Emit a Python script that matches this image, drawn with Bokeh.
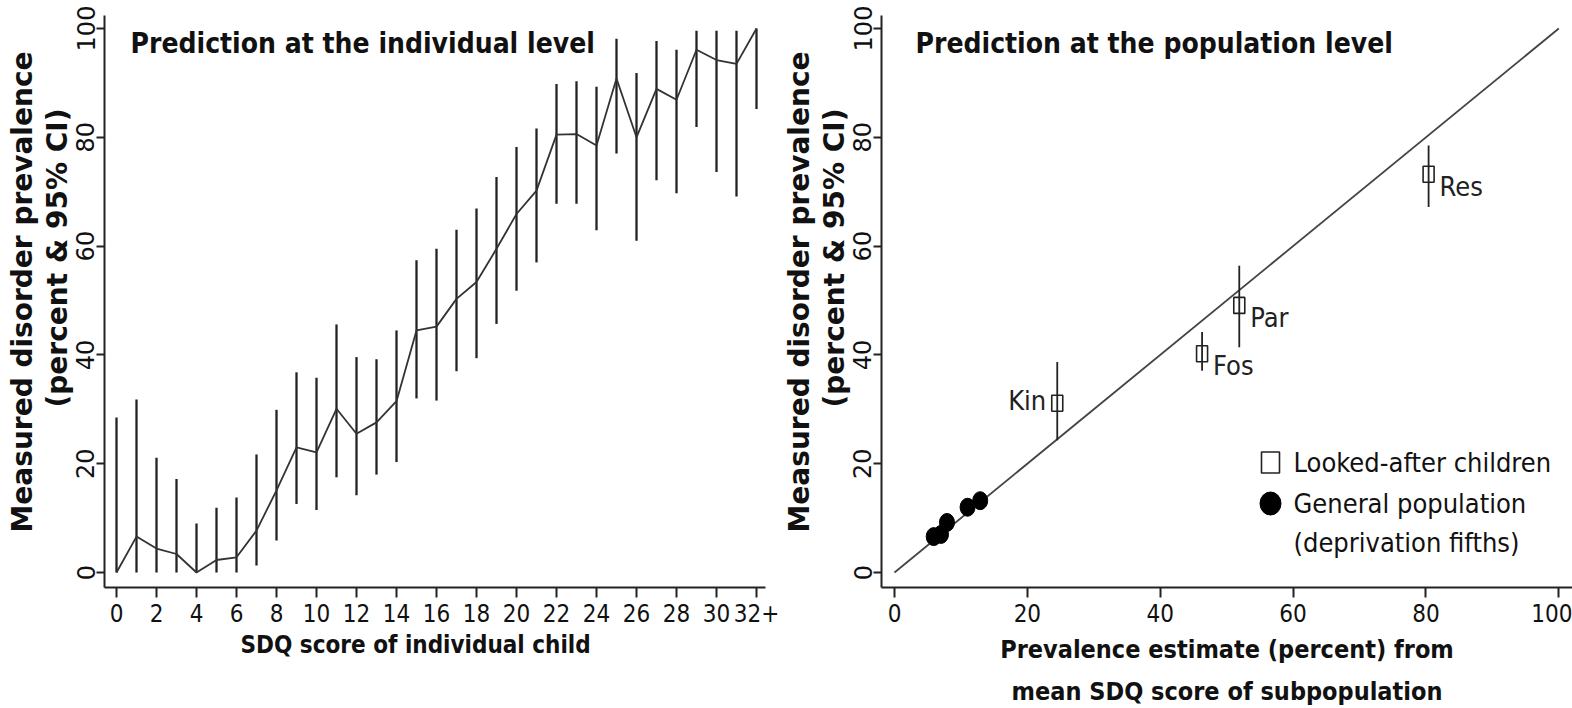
from bokeh.plotting import figure
from bokeh.models import Range1d, FixedTicker, Label, Title
from bokeh.layouts import row
from bokeh.core.properties import value
from bokeh.embed import file_html
from bokeh.resources import INLINE

# ---------------- data ----------------
# Left panel: SDQ score of individual child vs measured prevalence (%), 95% CI
sdq_score = list(range(0, 33))
sdq_ticks = list(range(0, 33, 2))
sdq_tick_labels = {32: "32+"}
prev_mean = [0, 6.6, 4.4, 3.4, 0, 2.3, 2.8, 7.7, 15.1, 23.0, 22.1, 30.1, 25.5, 27.6, 31.5,
             44.5, 45.2, 50.3, 53.4, 59.5, 65.9, 70.2, 80.5, 80.6, 78.5, 90.8, 80.0, 88.9,
             86.9, 96.1, 94.2, 93.5, 100]
prev_lower = [0, 0, 0, 0, 0, 0, 0, 1.3, 5.9, 12.6, 11.5, 17.5, 14.2, 18.0, 20.3, 32.0, 31.6,
              37.0, 39.4, 45.7, 51.8, 57.0, 67.8, 67.8, 62.9, 77.0, 61.0, 72.1, 69.7, 81.9,
              73.6, 69.1, 85.2]
prev_upper = [28.5, 31.8, 21.1, 17.2, 9.0, 11.9, 13.8, 21.7, 29.9, 36.8, 35.8, 45.6, 39.6,
              39.2, 44.5, 57.4, 59.5, 63.0, 66.9, 72.7, 78.2, 81.6, 89.8, 90.3, 89.3, 98.1,
              91.8, 97.7, 96.1, 99.6, 99.6, 99.6, 100]
y_ticks = [0, 20, 40, 60, 80, 100]

# Right panel: looked-after children subgroups
lac_labels = ["Kin", "Fos", "Par", "Res"]
lac_pred = [24.5, 46.3, 51.9, 80.4]
lac_meas = [31.1, 40.2, 49.1, 73.2]
lac_lower = [24.3, 37.1, 41.4, 67.2]
lac_upper = [38.7, 44.2, 56.4, 78.5]
pred_ticks = [0, 20, 40, 60, 80, 100]

# General population (deprivation fifths)
gp_pred = [5.9, 7.0, 7.9, 11.0, 12.9]
gp_meas = [6.6, 7.0, 9.2, 12.0, 13.2]

# line of identity
identity = [0, 100]

NARROW = "DejaVu Sans Condensed, Roboto, sans-serif"
WIDE = "DejaVu Sans"
INK = "#222222"
TXT = "#111111"

# page-pixel helpers (for annotation placement only)
def lx(px): return (px - 116) / 20.0
def ly(py): return (572 - py) / 5.44
def rx(px): return (px - 894) / 6.643


def style(p, xticks):
    p.outline_line_color = None
    p.xgrid.visible = False
    p.ygrid.visible = False
    p.background_fill_color = "white"
    p.border_fill_color = "white"
    for ax in (p.xaxis[0], p.yaxis[0]):
        ax.axis_line_color = INK
        ax.axis_line_width = 2
        ax.major_tick_line_color = INK
        ax.major_tick_line_width = 2
        ax.major_tick_in = 0
        ax.minor_tick_line_color = None
        ax.major_label_text_color = TXT
    p.xaxis.major_tick_out = 10
    p.yaxis.major_tick_out = 8
    p.xaxis.ticker = FixedTicker(ticks=xticks, minor_ticks=[])
    p.xaxis.major_label_text_font = NARROW
    p.xaxis.major_label_text_font_size = "24px"
    p.xaxis.major_label_standoff = 6
    p.yaxis.ticker = FixedTicker(ticks=y_ticks, minor_ticks=[])
    p.yaxis.major_label_orientation = "vertical"
    p.yaxis.major_label_text_font = WIDE
    p.yaxis.major_label_text_font_size = "24px"
    p.yaxis.major_label_standoff = 2


def ytitles(p):
    for txt, off in (("(percent & 95% CI)", 180), ("Measured disorder prevalence", 55)):
        p.add_layout(Title(text=txt, align="left", offset=off, standoff=0,
                           text_font=WIDE, text_font_style="bold",
                           text_font_size="28px", text_color=TXT), "left")


def xtitle(p, txt, align, off, standoff, size):
    p.add_layout(Title(text=txt, align=align, offset=off, standoff=standoff,
                       text_font=NARROW, text_font_style="bold",
                       text_font_size=size, text_color=TXT), "below")


def inlabel(p, x, y, text, size, bold=False, align="left", baseline="middle"):
    p.add_layout(Label(x=x, y=y, text=text, text_align=align, text_baseline=baseline,
                       text_font=NARROW, text_font_style="bold" if bold else "normal",
                       text_font_size=size, text_color=TXT))


# ---------------- left panel ----------------
p1 = figure(width=780, height=708,
            x_range=Range1d(lx(104), lx(765)), y_range=Range1d(ly(587), ly(15)),
            output_backend="svg", toolbar_location=None,
            min_border_left=104, min_border_right=15, min_border_top=15, min_border_bottom=121)
style(p1, sdq_ticks)
p1.xaxis.major_label_overrides = sdq_tick_labels

p1.segment(x0=sdq_score, y0=prev_lower, x1=sdq_score, y1=prev_upper,
           line_color=INK, line_width=2.3)
p1.line(sdq_score, prev_mean, line_color="#333333", line_width=1.8)

inlabel(p1, lx(130), ly(43), "Prediction at the individual level", "28px", bold=True,
        baseline="alphabetic")
ytitles(p1)
xtitle(p1, "SDQ score of individual child", "left", 136, 8, "24px")

# ---------------- right panel ----------------
p2 = figure(width=792, height=708,
            x_range=Range1d(rx(881), rx(1572)), y_range=Range1d(ly(587), ly(15)),
            output_backend="svg", toolbar_location=None,
            min_border_left=101, min_border_right=0, min_border_top=15, min_border_bottom=121)
style(p2, pred_ticks)

p2.line(identity, identity, line_color="#444444", line_width=1.8)
p2.segment(x0=lac_pred, y0=lac_lower, x1=lac_pred, y1=lac_upper,
           line_color=INK, line_width=1.8)
p2.rect(x=lac_pred, y=lac_meas, width=11, height=16, width_units="screen",
        height_units="screen", fill_color=None, line_color=INK, line_width=1.6)
p2.ellipse(x=gp_pred, y=gp_meas, width=15, height=18, width_units="screen",
           height_units="screen", fill_color="black", line_color="black")

left_idx = [i for i, t in enumerate(lac_labels) if t == "Kin"]
right_idx = [i for i, t in enumerate(lac_labels) if t != "Kin"]
p2.text(x=[lac_pred[i] for i in left_idx], y=[lac_meas[i] for i in left_idx],
        text=[lac_labels[i] for i in left_idx], x_offset=-11, y_offset=-3,
        text_align="right", text_baseline="middle",
        text_font=value(NARROW), text_font_size="27px", text_color="#222222")
p2.text(x=[lac_pred[i] for i in right_idx], y=[lac_meas[i] for i in right_idx],
        text=[lac_labels[i] for i in right_idx], x_offset=11, y_offset=12,
        text_align="left", text_baseline="middle",
        text_font=value(NARROW), text_font_size="27px", text_color="#222222")

# legend (drawn manually)
p2.rect(x=[rx(1270)], y=[ly(462)], width=18, height=21, width_units="screen",
        height_units="screen", fill_color=None, line_color=INK, line_width=1.6)
p2.ellipse(x=[rx(1270)], y=[ly(503)], width=21, height=23, width_units="screen",
           height_units="screen", fill_color="black", line_color="black")
inlabel(p2, rx(1293), ly(462), "Looked-after children", "27px")
inlabel(p2, rx(1293), ly(503), "General population", "27px")
inlabel(p2, rx(1293), ly(542), "(deprivation fifths)", "27px")

inlabel(p2, rx(915), ly(43), "Prediction at the population level", "28px", bold=True,
        baseline="alphabetic")
ytitles(p2)
xtitle(p2, "Prevalence estimate (percent) from", "center", 0, 16, "25px")
xtitle(p2, "mean SDQ score of subpopulation", "center", 0, 6, "25px")

layout = row(p1, p2)
open("out.html", "w").write(file_html(layout, INLINE))
